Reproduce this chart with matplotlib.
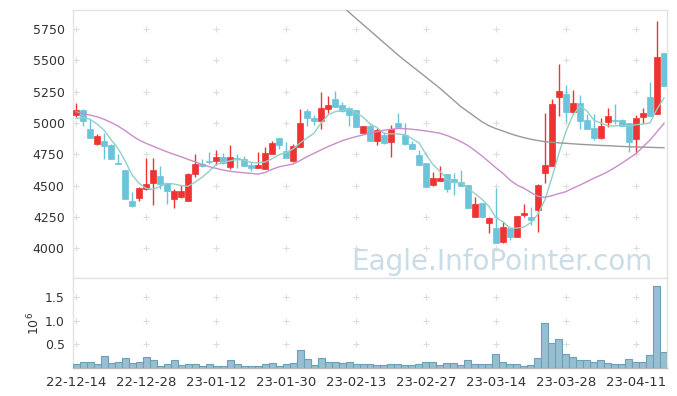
import matplotlib
matplotlib.use("Agg")
import matplotlib.pyplot as plt
import numpy as np
import pandas as pd

# daily candles, 22-12-14 .. 23-04-17 (85 trading days)
opens = [5060, 5100, 4950, 4830, 4860, 4825, 4680, 4625, 4380, 4405,
         4475, 4525, 4575, 4520, 4395, 4410, 4380, 4590, 4670, 4695,
         4700, 4730, 4645, 4718, 4715, 4665, 4643, 4635, 4755, 4880,
         4780, 4700, 4810, 5095, 5042, 5018, 5115, 5190, 5145, 5120,
         5105, 4923, 4980, 4860, 4905, 4846, 4998, 4905, 4832, 4745,
         4680, 4503, 4540, 4593, 4553, 4530, 4505, 4252, 4360, 4205,
         4165, 4048, 4165, 4093, 4268, 4252, 4306, 4603, 4660, 5210,
         5232, 5090, 5157, 5021, 4958, 4883, 5010, 5021, 5021, 4998,
         4872, 5050, 5210, 5070, 5556]
closes = [5100, 5020, 4880, 4900, 4820, 4715, 4670, 4395, 4335, 4480,
          4515, 4625, 4510, 4460, 4455, 4455, 4595, 4672, 4655, 4692,
          4730, 4682, 4730, 4712, 4660, 4643, 4668, 4760, 4840, 4825,
          4722, 4815, 5000, 5038, 5018, 5120, 5145, 5130, 5098, 5064,
          4970, 4976, 4860, 4945, 4838, 4950, 4970, 4830, 4790, 4668,
          4492, 4560, 4560, 4476, 4530, 4497, 4325, 4355, 4248, 4245,
          4045, 4168, 4093, 4258, 4284, 4226, 4505, 4665, 5152, 5255,
          5090, 5162, 5018, 4955, 4883, 4976, 5056, 5013, 4978, 4851,
          5037, 5080, 5058, 5527, 5298]
highs = [5160, 5110, 5030, 4910, 4920, 4830, 4750, 4625, 4450, 4490,
         4720, 4720, 4660, 4525, 4470, 4505, 4600, 4752, 4715, 4770,
         4785, 4760, 4825, 4752, 4735, 4690, 4768, 4805, 4855, 4880,
         4845, 4830, 5110, 5110, 5060, 5250, 5215, 5255, 5165, 5125,
         5105, 4980, 4990, 4960, 4930, 4985, 5078, 4998, 4860, 4785,
         4680, 4612, 4660, 4595, 4603, 4625, 4505, 4410, 4360, 4248,
         4480, 4212, 4170, 4260, 4354, 4332, 4510, 5077, 5190, 5468,
         5303, 5263, 5223, 5074, 5069, 5037, 5117, 5149, 5030, 5000,
         5064, 5120, 5330, 5814, 5556]
lows = [5050, 4980, 4880, 4825, 4710, 4710, 4670, 4395, 4330, 4375,
        4465, 4345, 4470, 4355, 4320, 4405, 4378, 4570, 4650, 4672,
        4665, 4672, 4632, 4640, 4655, 4620, 4640, 4632, 4750, 4795,
        4722, 4690, 4810, 4975, 4985, 4950, 5080, 5125, 5090, 4975,
        4970, 4920, 4858, 4825, 4835, 4730, 4965, 4828, 4790, 4665,
        4490, 4500, 4535, 4450, 4425, 4495, 4320, 4250, 4245, 4120,
        4045, 4045, 4065, 4090, 4252, 4186, 4133, 4519, 4659, 5058,
        5010, 5080, 4950, 4950, 4864, 4875, 4970, 4990, 4975, 4771,
        4758, 5000, 5058, 5070, 5298]
volumes = [0.09, 0.13, 0.13, 0.09, 0.26, 0.11, 0.13, 0.21, 0.11, 0.13,
           0.23, 0.17, 0.04, 0.09, 0.16, 0.07, 0.09, 0.09, 0.04, 0.09,
           0.04, 0.04, 0.16, 0.09, 0.04, 0.04, 0.04, 0.09, 0.11, 0.04,
           0.09, 0.11, 0.39, 0.19, 0.07, 0.21, 0.13, 0.13, 0.11, 0.13,
           0.09, 0.09, 0.09, 0.06, 0.06, 0.09, 0.09, 0.06, 0.06, 0.09,
           0.13, 0.13, 0.06, 0.11, 0.11, 0.06, 0.16, 0.09, 0.09, 0.09,
           0.30, 0.13, 0.09, 0.09, 0.04, 0.06, 0.21, 0.96, 0.54, 0.62,
           0.30, 0.235, 0.17, 0.16, 0.13, 0.16, 0.11, 0.09, 0.09, 0.19,
           0.13, 0.13, 0.28, 1.74, 0.35]

# first 4 MA5 points come from days before the window
ma5_head = [5037, 5045, 5030, 4992]
ma20 = [5090, 5077, 5063, 5050, 5030, 5005, 4976, 4940, 4900, 4864,
        4838, 4815, 4792, 4770, 4750, 4731, 4710, 4690, 4670, 4652,
        4638, 4625, 4615, 4608, 4603, 4598, 4592, 4605, 4630, 4650,
        4662, 4672, 4700, 4731, 4758, 4785, 4812, 4835, 4858, 4876,
        4891, 4905, 4918, 4931, 4942, 4950, 4956, 4955, 4950, 4944,
        4936, 4928, 4918, 4900, 4877, 4851, 4820, 4780, 4737, 4690,
        4642, 4598, 4545, 4505, 4479, 4445, 4415, 4407, 4420, 4437,
        4452, 4480, 4505, 4532, 4560, 4585, 4612, 4645, 4680, 4718,
        4755, 4810, 4864, 4930, 4997]
# long MA, visible from day 38 on
ma_long = [5933, 5884, 5835, 5786, 5738, 5689, 5640, 5592, 5543, 5498,
           5454, 5410, 5366, 5321, 5277, 5228, 5179, 5130, 5090, 5050,
           5010, 4978, 4955, 4936, 4916, 4898, 4883, 4870, 4860, 4851,
           4846, 4842, 4838, 4834, 4830, 4827, 4824, 4821, 4819, 4816,
           4813, 4811, 4809, 4807, 4806, 4804, 4803]
ma_long_start = 38

tick_labels = ["22-12-14", "22-12-28", "23-01-12", "23-01-30", "23-02-13",
               "23-02-27", "23-03-14", "23-03-28", "23-04-11"]
price_ticks = [4000, 4250, 4500, 4750, 5000, 5250, 5500, 5750]
vol_ticks = [0.5, 1.0, 1.5]

UP = "#ee3333"
DOWN = "#6cc4da"
GRID = "#dddddd"
TXT = "#333333"

n = len(closes)
x = np.arange(n)
ma5 = pd.Series(closes).rolling(5).mean().to_numpy()
ma5[:4] = ma5_head

fig = plt.figure(figsize=(6.77, 3.96), dpi=100)
ax = fig.add_axes([73 / 677, 1 - 278 / 396, 594 / 677, 268 / 396])
axv = fig.add_axes([73 / 677, 1 - 368 / 396, 594 / 677, 90 / 396], sharex=ax)

xmin, xmax = -0.43, n - 1 + 0.43
xt = x[::10]

# candles
for i in range(n):
    up = closes[i] >= opens[i]
    c = UP if up else DOWN
    ax.vlines(x[i], lows[i], highs[i], color=c, lw=1.0, zorder=3)
    lo, hi = min(opens[i], closes[i]), max(opens[i], closes[i])
    ax.bar(x[i], max(hi - lo, 4), bottom=lo, width=0.72, color=c,
           edgecolor=c, lw=0.5, zorder=4)

ax.plot(x, ma5, color="#93cfc6", lw=1.0, zorder=5)
ax.plot(x, ma20, color="#c98ec9", lw=1.0, zorder=5)
ax.plot(x[ma_long_start:], ma_long, color="#999999", lw=1.0, zorder=5)

ax.set_xlim(xmin, xmax)
ax.set_ylim(3763, 5902)
ax.set_yticks(price_ticks)
ax.set_yticklabels([str(v) for v in price_ticks], fontsize=9, color=TXT)
ax.tick_params(axis="both", length=0, pad=6)
ax.tick_params(axis="x", labelbottom=False)
gx, gy = np.meshgrid(xt, price_ticks)
ax.scatter(gx.ravel(), gy.ravel(), marker="+", s=14, color=GRID, lw=0.8, zorder=1)

ax.text(653 / 677, 1 - 270 / 396, "Eagle.InfoPointer.com", transform=fig.transFigure,
        ha="right", va="baseline", fontsize=20, color="#c9dce7", zorder=6)

# volume
axv.bar(x, volumes, width=1.0, color="#98bfd1", edgecolor="#6c9fb8", lw=0.8, zorder=3)
axv.set_ylim(0, 1.91)
axv.set_yticks(vol_ticks)
axv.set_yticklabels(["0.5", "1.0", "1.5"], fontsize=9, color=TXT)
axv.set_xticks(xt)
axv.set_xticklabels(tick_labels, fontsize=9.5, color=TXT)
axv.tick_params(axis="both", length=0, pad=6)
axv.set_ylabel("$10^6$", fontsize=9, color=TXT, labelpad=2)
vx, vy = np.meshgrid(xt, vol_ticks)
axv.scatter(vx.ravel(), vy.ravel(), marker="+", s=14, color=GRID, lw=0.8, zorder=1)

for a in (ax, axv):
    for s in a.spines.values():
        s.set_color("#e3e3e3")
        s.set_linewidth(1.0)
axv.spines["bottom"].set_color("#bbbbbb")

fig.savefig("out.png", dpi=100)
